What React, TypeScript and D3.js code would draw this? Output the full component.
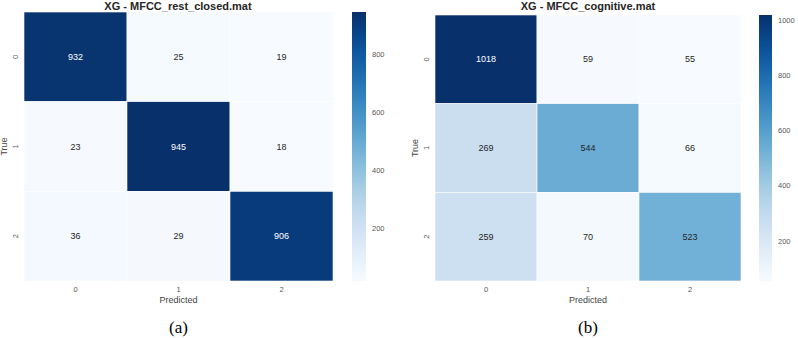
import React from 'react';
import * as d3 from 'd3';

const classes = ['0', '1', '2'];
const restClosed = [
  [932, 25, 19],
  [23, 945, 18],
  [36, 29, 906],
];
const cognitive = [
  [1018, 59, 55],
  [269, 544, 66],
  [259, 70, 523],
];
const restTicks = [200, 400, 600, 800];
const cognitiveTicks = [200, 400, 600, 800, 1000];

const FONT = '"Liberation Sans", Arial, sans-serif';

interface HeatmapProps {
  id: string;
  title: string;
  caption: string;
  matrix: number[][];
  ticks: number[];
  x0: number;
  x1: number;
  top: number;
  bottom: number;
  cbX: number;
  cbW: number;
  titleX: number;
}

const Heatmap: React.FC<HeatmapProps> = ({ id, title, caption, matrix, ticks, x0, x1, top, bottom, cbX, cbW, titleX }) => {
  const flat = matrix.flat();
  const lo = d3.min(flat) as number;
  const hi = d3.max(flat) as number;
  const color = d3.scaleSequential(d3.interpolateBlues).domain([lo, hi]);
  const x = d3.scaleBand<string>().domain(classes).range([x0, x1]);
  const y = d3.scaleBand<string>().domain(classes).range([top, bottom]);
  const cbY = d3.scaleLinear().domain([lo, hi]).range([bottom, top]);
  const stops = d3.range(0, 1.0001, 0.05);
  const midX = (x0 + x1) / 2;

  return (
    <g>
      <defs>
        <linearGradient id={id} x1="0" y1="1" x2="0" y2="0">
          {stops.map((t) => (
            <stop key={t} offset={t} stopColor={d3.interpolateBlues(t)} />
          ))}
        </linearGradient>
      </defs>
      <text x={titleX} y={10} textAnchor="middle" fontFamily={FONT} fontWeight="bold" fontSize={11} fill="#262626">
        {title}
      </text>
      {matrix.map((row, i) =>
        row.map((v, j) => {
          // light text only on the darkest cells
          const dark = (v - lo) / (hi - lo) > 0.7;
          return (
            <g key={`${i}-${j}`}>
              <rect
                x={x(classes[j])}
                y={y(classes[i])}
                width={x.bandwidth()}
                height={y.bandwidth()}
                fill={color(v)}
                stroke="#fff"
                strokeWidth={0.6}
              />
              <text
                x={(x(classes[j]) as number) + x.bandwidth() / 2}
                y={(y(classes[i]) as number) + y.bandwidth() / 2}
                dy="0.35em"
                textAnchor="middle"
                fontFamily={FONT}
                fontSize={9}
                fill={dark ? '#ffffff' : '#262626'}
              >
                {v}
              </text>
            </g>
          );
        })
      )}
      {classes.map((c) => (
        <text
          key={`xt${c}`}
          x={(x(c) as number) + x.bandwidth() / 2}
          y={292}
          textAnchor="middle"
          fontFamily={FONT}
          fontSize={7.5}
          fill="#555"
        >
          {c}
        </text>
      ))}
      <text x={midX} y={303} textAnchor="middle" fontFamily={FONT} fontSize={9} fill="#444">
        Predicted
      </text>
      {classes.map((c) => {
        const cy = (y(c) as number) + y.bandwidth() / 2;
        const tx = x0 - 9;
        return (
          <text
            key={`yt${c}`}
            transform={`translate(${tx},${cy}) rotate(-90)`}
            textAnchor="middle"
            dy="0.35em"
            fontFamily={FONT}
            fontSize={7.5}
            fill="#555"
          >
            {c}
          </text>
        );
      })}
      <text
        transform={`translate(${x0 - 20},${(top + bottom) / 2}) rotate(-90)`}
        textAnchor="middle"
        dy="0.35em"
        fontFamily={FONT}
        fontSize={9}
        fill="#444"
      >
        True
      </text>
      <rect x={cbX} y={top} width={cbW} height={bottom - top} fill={`url(#${id})`} />
      {ticks.map((t) => (
        <text
          key={`cb${t}`}
          x={cbX + cbW + 6}
          y={cbY(t)}
          dy="0.35em"
          fontFamily={FONT}
          fontSize={7.5}
          fill="#555"
        >
          {t}
        </text>
      ))}
      <text x={midX} y={333} textAnchor="middle" fontFamily='"Liberation Serif", "DejaVu Serif", serif' fontSize={17} fill="#000">
        {caption}
      </text>
    </g>
  );
};

const App: React.FC = () => (
  <svg width={798} height={338} style={{ position: 'absolute', left: 0, top: 0, background: '#fff' }}>
    <rect width={798} height={338} fill="#fff" />
    <Heatmap
      id="cb-rest"
      title="XG - MFCC_rest_closed.mat"
      caption="(a)"
      matrix={restClosed}
      ticks={restTicks}
      x0={24}
      x1={333}
      top={12}
      bottom={281}
      cbX={352}
      cbW={14}
      titleX={178}
    />
    <Heatmap
      id="cb-cog"
      title="XG - MFCC_cognitive.mat"
      caption="(b)"
      matrix={cognitive}
      ticks={cognitiveTicks}
      x0={435}
      x1={741}
      top={15}
      bottom={281}
      cbX={759}
      cbW={13}
      titleX={588}
    />
  </svg>
);

export default App;
